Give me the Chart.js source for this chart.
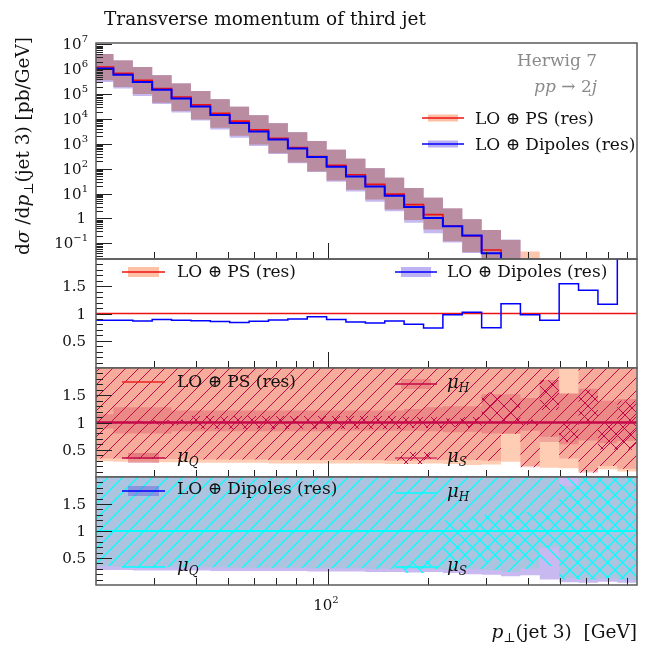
<!DOCTYPE html>
<html lang="en">
<head>
<meta charset="UTF-8">
<title>Transverse momentum of third jet</title>
<script src="https://cdn.jsdelivr.net/npm/chart.js"></script>
<style>
  html, body { margin: 0; padding: 0; background: #fff; }
  #wrap { position: relative; width: 649px; height: 649px; }
  #wrap canvas { position: absolute; left: 0; top: 0; }
</style>
</head>
<body>
<div id="wrap">
  <canvas id="main" width="649" height="649"></canvas>
  <canvas id="ratio" width="649" height="649"></canvas>
  <canvas id="ps" width="649" height="649"></canvas>
  <canvas id="dip" width="649" height="649"></canvas>
</div>
<script>
// bin edges in GeV (log-uniform bins, first one cut at the axis)
const binEdges = [20, 22.57, 25.82, 29.54, 33.79, 38.66, 44.23, 50.6, 57.88, 66.22, 75.75, 86.66, 99.14,
  113.4, 129.7, 148.4, 169.8, 194.3, 222.2, 254.2, 290.8, 332.7, 380.6, 435.4, 498.1, 569.8, 651.9, 745.8, 853.2];

// central values [pb/GeV]
const psXsec = [1.24e6, 6.9e5, 3.6e5, 1.68e5, 7.7e4, 3.7e4, 1.7e4, 8.2e3, 3.65e3, 1.69e3, 716, 312, 136, 57,
  23.4, 9.5, 3.6, 1.43, 0.5, 0.2, 0.054, 0.015, 0.008, 0.004, 0.0015, 0.0006, 0.00025, 0.0001];
const dipXsec = [1.087e6, 6.05e5, 3.11e5, 1.494e5, 6.75e4, 3.2e4, 1.448e4, 6.83e3, 3.13e3, 1.49e3, 645, 293, 121, 48.2,
  19.35, 8.2, 2.89, 1.05, 0.488, 0.205, 0.04, 0.0177, 0.0078, 0.0035, 0.00232, 0.000856, 0.000293, 0.00026];

// LO+PS envelopes, relative to its central value
const psTotLo = [0.29, 0.28, 0.28, 0.27, 0.27, 0.26, 0.26, 0.26, 0.26, 0.25, 0.25, 0.25, 0.25, 0.25, 0.25, 0.24, 0.24, 0.25, 0.24, 0.22, 0.23, 0.28, 0.2, 0.17, 0.16, 0.1, 0.14, 0.1];
const psTotHi = [3.3, 3.3, 3.4, 3.4, 3.5, 3.6, 3.7, 3.8, 3.9, 4.0, 4.1, 4.2, 4.3, 4.4, 4.5, 4.6, 4.7, 4.8, 5.0, 4.6, 6.3, 9.0, 5.8, 5.0, 5.0, 5.0, 5.0, 5.0];
const psQLo = [0.34, 0.34, 0.33, 0.33, 0.33, 0.32, 0.32, 0.32, 0.32, 0.31, 0.31, 0.31, 0.31, 0.31, 0.31, 0.3, 0.3, 0.31, 0.31, 0.31, 0.3, 0.79, 0.18, 0.74, 0.34, 0.08, 0.2, 0.15];
const psQHi = [3, 3, 3, 3, 3, 3, 3, 3, 3, 3, 3, 3, 3, 3, 3, 3, 3, 3, 3, 3, 3, 3, 3, 3, 1.53, 3, 3, 3];
const psHLo = [0.89, 0.8, 0.8, 0.8, 0.84, 0.84, 0.84, 0.84, 0.84, 0.84, 0.84, 0.84, 0.85, 0.85, 0.85, 0.85, 0.85, 0.84, 0.82, 0.83, 0.8, 0.8, 0.85, 0.64, 0.6, 0.67, 0.62, 0.66];
const psHHi = [1.15, 1.28, 1.28, 1.28, 1.22, 1.22, 1.22, 1.22, 1.22, 1.22, 1.22, 1.22, 1.22, 1.22, 1.22, 1.22, 1.25, 1.28, 1.3, 1.3, 1.52, 1.52, 1.45, 1.78, 1.53, 1.62, 1.4, 1.43];
const psSLo = [0.98, 0.98, 0.97, 0.96, 0.95, 0.88, 0.88, 0.88, 0.88, 0.88, 0.88, 0.88, 0.88, 0.88, 0.88, 0.88, 0.9, 0.9, 0.92, 0.9, 1.0, 1.0, 0.95, 1.23, 0.64, 1.0, 0.5, 0.5];
const psSHi = [1.02, 1.02, 1.03, 1.04, 1.05, 1.12, 1.12, 1.12, 1.12, 1.12, 1.12, 1.12, 1.12, 1.12, 1.12, 1.12, 1.1, 1.1, 1.08, 1.1, 1.55, 1.45, 1.05, 1.78, 0.98, 1.6, 0.98, 1.4];

// LO+Dipoles envelopes, relative to its central value
const dipTotLo = [0.28, 0.28, 0.27, 0.27, 0.27, 0.27, 0.26, 0.26, 0.26, 0.26, 0.26, 0.25, 0.25, 0.25, 0.24, 0.24, 0.23, 0.24, 0.22, 0.2, 0.19, 0.16, 0.18, 0.1, 0.05, 0.04, 0.06, 0.04];
const dipTotHi = [3.76, 3.76, 3.94, 3.82, 3.99, 4.17, 4.34, 4.56, 4.55, 4.53, 4.55, 4.48, 4.84, 5.2, 5.44, 5.32, 5.86, 6.53, 5.13, 4.49, 8.5, 8.0, 2.5, 5.0, 5.0, 5.0, 5.0, 5.0];
const dipQLo = [0.35, 0.34, 0.34, 0.33, 0.33, 0.33, 0.33, 0.32, 0.32, 0.32, 0.32, 0.31, 0.31, 0.31, 0.3, 0.3, 0.29, 0.29, 0.28, 0.3, 0.28, 0.24, 0.3, 0.69, 0.12, 0.1, 0.12, 0.1];
const dipQHi = [3, 3, 3, 3, 3, 3, 3, 3, 3, 3, 3, 3, 3, 3, 3, 3, 3, 3, 3, 3, 3, 3, 3, 3, 1.83, 3, 3, 3];
const dipSLo = [0.99, 0.99, 0.99, 0.99, 0.99, 0.99, 0.99, 0.96, 0.96, 0.96, 0.96, 0.96, 0.96, 0.96, 0.96, 0.96, 0.96, 0.96, 0.4, 0.4, 0.42, 0.45, 0.4, 0.35, 0.1, 0.1, 0.1, 0.1];
const dipSHi = [1.01, 1.01, 1.01, 1.01, 1.01, 1.01, 1.01, 1.02, 1.02, 1.02, 1.02, 1.02, 1.02, 1.02, 1.02, 1.02, 1.02, 1.02, 1.2, 1.25, 1.3, 1.4, 1.35, 1.4, 3, 3, 3, 3];

// ticks
const xMajorTicks = [100];
const xMinorTicks = [30, 40, 50, 60, 70, 80, 90, 200, 300, 400, 500, 600, 700, 800];
const mainTickValues = [1e7, 1e6, 1e5, 1e4, 1e3, 1e2, 10, 1, 0.1];
const mainTickExp = ['7', '6', '5', '4', '3', '2', '1', '', '\u22121'];
const ratioTickValues = [1.5, 1, 0.5];
const ratioTickLabels = ['1.5', '1', '0.5'];

const xMin = 20, xMax = 855;
const W = 649, plotLeft = 96, plotRight = 637;
const SERIF = '"DejaVu Serif", serif';
const INK = '#111';

function steps(vals) {
  const pts = vals.map((v, i) => ({ x: binEdges[i], y: v }));
  pts.push({ x: binEdges[vals.length], y: vals[vals.length - 1] });
  return pts;
}
function line(vals, color, width) {
  return { data: steps(vals), borderColor: color, borderWidth: width, stepped: true, fill: false, pointRadius: 0 };
}
function band(lo, hi, fillStyle) {
  return [
    { data: steps(lo), borderWidth: 0, stepped: true, fill: false, pointRadius: 0 },
    { data: steps(hi), borderWidth: 0, stepped: true, fill: '-1', backgroundColor: fillStyle, pointRadius: 0 }
  ];
}
// first dataset at the bottom, last one on top
function layered(list) {
  list.forEach((d, i) => { d.order = list.length - i; });
  return list;
}
function hatch(color, size, width, dirs) {
  const c = document.createElement('canvas');
  c.width = c.height = size;
  const g = c.getContext('2d');
  g.strokeStyle = color; g.lineWidth = width;
  g.beginPath();
  for (const o of [-size, 0, size]) {
    if (dirs.indexOf('/') >= 0) { g.moveTo(o, size); g.lineTo(o + size, 0); }
    if (dirs.indexOf('\\') >= 0) { g.moveTo(o, 0); g.lineTo(o + size, size); }
  }
  g.stroke();
  return g.createPattern(c, 'repeat');
}

function setFont(ctx, size, italic) { ctx.font = (italic ? 'italic ' : '') + size + 'px ' + SERIF; }
function rich(ctx, parts, x, y, align, color) {
  ctx.fillStyle = color || INK;
  ctx.textAlign = 'left';
  ctx.textBaseline = 'alphabetic';
  let w = 0;
  for (const p of parts) { setFont(ctx, p.s, p.i); w += ctx.measureText(p.t).width; }
  let cx = align === 'right' ? x - w : (align === 'center' ? x - w / 2 : x);
  for (const p of parts) {
    setFont(ctx, p.s, p.i);
    ctx.fillText(p.t, cx, y + (p.dy || 0));
    cx += ctx.measureText(p.t).width;
  }
}
function mu(sub) { return [{ t: '\u03bc', s: 18, i: true }, { t: sub, s: 12, i: true, dy: 4 }]; }
function swatch(ctx, x1, x2, y, lineColor, lw, box, bh) {
  if (box) { ctx.fillStyle = box; ctx.fillRect(x1 + 6, y - bh / 2, x2 - x1 - 12, bh); }
  ctx.strokeStyle = lineColor; ctx.lineWidth = lw;
  ctx.beginPath(); ctx.moveTo(x1, y); ctx.lineTo(x2, y); ctx.stroke();
}

function decor(yMajor, yMinor, extra) {
  return {
    id: 'decor',
    afterDatasetsDraw(chart) {
      const { ctx, chartArea: a, scales: { x, y } } = chart;
      ctx.save();
      ctx.strokeStyle = '#222'; ctx.lineWidth = 1;
      ctx.beginPath();
      const xt = (v, len) => { const px = Math.round(x.getPixelForValue(v)) + 0.5; ctx.moveTo(px, a.bottom); ctx.lineTo(px, a.bottom - len); };
      const yt = (v, len) => { const py = Math.round(y.getPixelForValue(v)) + 0.5; ctx.moveTo(a.left, py); ctx.lineTo(a.left + len, py); };
      xMinorTicks.forEach(v => xt(v, 7));
      xMajorTicks.forEach(v => xt(v, 16));
      yMinor.forEach(v => yt(v, 7));
      yMajor.forEach(v => yt(v, 16));
      ctx.stroke();
      ctx.strokeStyle = '#5a5a5a'; ctx.lineWidth = 1.5;
      ctx.strokeRect(a.left, a.top, a.right - a.left, a.bottom - a.top);
      extra(ctx, chart);
      ctx.restore();
    }
  };
}

function makeChart(id, top, bottom, yScale, datasets, plugin) {
  return new Chart(document.getElementById(id), {
    type: 'line',
    data: { datasets: layered(datasets) },
    options: {
      responsive: false, animation: false, events: [],
      layout: { padding: { left: plotLeft, right: W - plotRight, top: top, bottom: W - bottom } },
      scales: {
        x: { type: 'logarithmic', min: xMin, max: xMax, display: false },
        y: Object.assign({ display: false }, yScale)
      },
      plugins: { legend: { display: false }, tooltip: { enabled: false } },
      elements: { point: { radius: 0 } }
    },
    plugins: [plugin]
  });
}

const ratioMinor = [];
for (let k = 1; k < 20; k++) { if (k % 5 !== 0) ratioMinor.push(k / 10); }
function ratioLabels(ctx, chart) {
  ratioTickValues.forEach((v, i) => {
    rich(ctx, [{ t: ratioTickLabels[i], s: 15 }], 86, chart.scales.y.getPixelForValue(v) + 5, 'right');
  });
}

// ---------- main panel ----------
const mainMin = 0.0234, mainMax = 1.14e7;
const mainMinor = [];
for (let k = -2; k <= 6; k++) for (let m = 2; m <= 9; m++) {
  const v = m * Math.pow(10, k);
  if (v > mainMin && v < mainMax) mainMinor.push(v);
}
const psLo = psXsec.map((v, i) => v * psTotLo[i]);
const psHi = psXsec.map((v, i) => v * psTotHi[i]);
const dLo = dipXsec.map((v, i) => v * dipTotLo[i]);
const dHi = dipXsec.map((v, i) => v * dipTotHi[i]);
const ovLo = psLo.map((v, i) => Math.max(v, dLo[i]));
const ovHi = psHi.map((v, i) => Math.max(Math.min(v, dHi[i]), ovLo[i]));

makeChart('main', 43, 259, { type: 'logarithmic', min: mainMin, max: mainMax }, [
  ...band(psLo, psHi, '#fdc6ad'),
  ...band(dLo, dHi, '#c6b9ef'),
  ...band(ovLo, ovHi, '#b98ca1'),
  line(psXsec, '#ee1111', 1.6),
  line(dipXsec, '#0000ff', 2)
], decor(mainTickValues, mainMinor, (ctx, chart) => {
  rich(ctx, [{ t: 'Transverse momentum of third jet', s: 18.5 }], 104, 25, 'left');
  mainTickValues.forEach((v, i) => {
    const py = chart.scales.y.getPixelForValue(v);
    if (mainTickExp[i] === '') rich(ctx, [{ t: '1', s: 15 }], 86, py + 5, 'right');
    else rich(ctx, [{ t: '10', s: 15 }, { t: mainTickExp[i], s: 10, dy: -7 }], 88, py + 5, 'right');
  });
  ctx.save();
  ctx.translate(29, 146); ctx.rotate(-Math.PI / 2);
  rich(ctx, [{ t: 'd', s: 18.5 }, { t: '\u03c3', s: 18.5, i: true }, { t: ' /d', s: 18.5 }, { t: 'p', s: 18.5, i: true },
    { t: '\u22a5', s: 13, dy: 4 }, { t: '(jet 3) [pb/GeV]', s: 18.5 }], 0, 0, 'center');
  ctx.restore();
  rich(ctx, [{ t: 'Herwig 7', s: 17 }], 597, 66, 'right', '#8a8a8a');
  rich(ctx, [{ t: 'pp', s: 17, i: true }, { t: ' \u2192 2', s: 17 }, { t: 'j', s: 17, i: true }], 597, 92, 'right', '#8a8a8a');
  swatch(ctx, 422, 464, 118, '#ee1111', 1.5, '#fdbfa3', 7);
  rich(ctx, [{ t: 'LO \u2295 PS (res)', s: 17 }], 475, 124, 'left');
  swatch(ctx, 422, 464, 144, '#0000ff', 1.5, '#b9aef0', 7);
  rich(ctx, [{ t: 'LO \u2295 Dipoles (res)', s: 17 }], 475, 150, 'left');
}));

// ---------- ratio of the two ----------
const psOne = psXsec.map(v => v / v);
const dipOverPs = dipXsec.map((v, i) => v / psXsec[i]);
makeChart('ratio', 259, 368, { type: 'linear', min: 0, max: 2 }, [
  line(psOne, '#ee1111', 1.5),
  line(dipOverPs, '#0000ff', 1.5)
], decor(ratioTickValues, ratioMinor, (ctx, chart) => {
  ratioLabels(ctx, chart);
  swatch(ctx, 122, 165, 272, '#ee1111', 1.5, '#fdc0a4', 10);
  rich(ctx, [{ t: 'LO \u2295 PS (res)', s: 17 }], 177, 277, 'left');
  swatch(ctx, 395, 437, 272, '#0000ff', 1.5, '#bdb2f2', 10);
  rich(ctx, [{ t: 'LO \u2295 Dipoles (res)', s: 17 }], 447, 277, 'left');
}));

// ---------- LO+PS scale variations ----------
const crimson = '#c4084a';
const psHatch = hatch(crimson, 13, 1, '/');
const psCross = hatch(crimson, 14, 1, '/\\');
makeChart('ps', 368, 477, { type: 'linear', min: 0, max: 2 }, [
  ...band(psTotLo, psTotHi, '#ffcdb4'),
  ...band(psQLo, psQHi, 'rgba(225,80,90,0.27)'),
  ...band(psQLo, psQHi, psHatch),
  ...band(psHLo, psHHi, 'rgba(190,20,60,0.22)'),
  ...band(psSLo, psSHi, psCross),
  line(psOne, crimson, 2.5)
], decor(ratioTickValues, ratioMinor, (ctx, chart) => {
  ratioLabels(ctx, chart);
  swatch(ctx, 122, 165, 382, '#ee2222', 1.5, null, 0);
  rich(ctx, [{ t: 'LO \u2295 PS (res)', s: 17 }], 177, 387, 'left');
  swatch(ctx, 395, 437, 384, crimson, 1.5, 'rgba(215,60,80,0.3)', 10);
  rich(ctx, mu('H'), 447, 388, 'left');
  swatch(ctx, 122, 165, 458, crimson, 1.5, 'rgba(190,20,60,0.3)', 10);
  rich(ctx, mu('Q'), 177, 462, 'left');
  swatch(ctx, 395, 437, 458, crimson, 1.2, psCross, 12);
  rich(ctx, mu('S'), 447, 462, 'left');
}));

// ---------- LO+Dipoles scale variations ----------
const cyan = '#00ffff';
const dipHatch = hatch(cyan, 15, 1.3, '/');
const dipBack = hatch(cyan, 15, 1.3, '\\');
makeChart('dip', 477, 585, { type: 'linear', min: 0, max: 2 }, [
  ...band(dipTotLo, dipTotHi, '#c9b9f1'),
  ...band(dipQLo, dipQHi, 'rgba(140,210,205,0.45)'),
  ...band(dipQLo, dipQHi, dipHatch),
  ...band(dipSLo, dipSHi, dipBack),
  line(psOne, cyan, 2)
], decor(ratioTickValues, ratioMinor, (ctx, chart) => {
  ratioLabels(ctx, chart);
  swatch(ctx, 122, 165, 491, '#0000ff', 1.5, 'rgba(100,90,220,0.45)', 10);
  rich(ctx, [{ t: 'LO \u2295 Dipoles (res)', s: 17 }], 177, 494, 'left');
  swatch(ctx, 395, 437, 493, cyan, 1.5, null, 0);
  rich(ctx, mu('H'), 447, 497, 'left');
  swatch(ctx, 122, 165, 567, cyan, 1.5, null, 0);
  rich(ctx, mu('Q'), 177, 571, 'left');
  swatch(ctx, 395, 437, 567, cyan, 1.5, dipBack, 12);
  rich(ctx, mu('S'), 447, 571, 'left');
  const px = chart.scales.x.getPixelForValue(xMajorTicks[0]);
  rich(ctx, [{ t: '10', s: 15 }, { t: '2', s: 10, dy: -7 }], px - 2, 610, 'center');
  rich(ctx, [{ t: 'p', s: 18.5, i: true }, { t: '\u22a5', s: 13, dy: 4 }, { t: '(jet 3)  [GeV]', s: 18.5 }], 637, 638, 'right');
}));
</script>
</body>
</html>
